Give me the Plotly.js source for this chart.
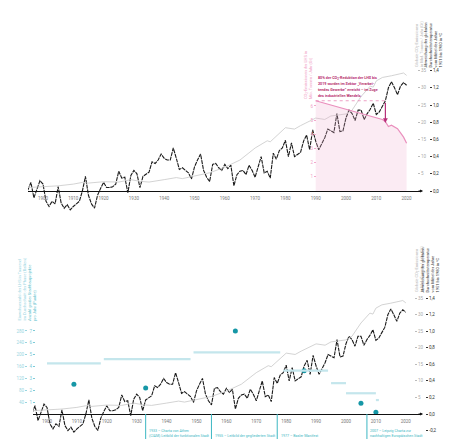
<!DOCTYPE html>
<html><head><meta charset="utf-8">
<script src="https://cdn.plot.ly/plotly-3.0.1.min.js"></script>
<style>html,body{margin:0;padding:0;background:#fff}#chart{width:454px;height:439px}</style>
</head><body><div id="chart"></div>
<script>
// ---------- data ----------
const tempStartYear = 1895;
const tempValues = [
  0.01, 0.10, -0.08, 0.02, 0.12,
  0.08, -0.12, -0.18, -0.12, -0.15, 0.05, -0.14, -0.20, -0.16, -0.22,
  -0.18, -0.15, -0.12, 0.00, 0.17, -0.05, -0.15, -0.20, -0.05, 0.03,
  0.10, 0.04, 0.04, 0.05, 0.08, 0.23, 0.15, 0.16, -0.02, 0.18,
  0.24, 0.20, 0.04, 0.17, 0.19, 0.22, 0.34, 0.32, 0.36, 0.43,
  0.38, 0.36, 0.36, 0.50, 0.38, 0.25, 0.27, 0.24, 0.21, 0.14,
  0.28, 0.36, 0.43, 0.24, 0.16, 0.11, 0.31, 0.32, 0.27, 0.24,
  0.31, 0.26, 0.30, 0.06, 0.19, 0.23, 0.24, 0.19, 0.30, 0.24,
  0.16, 0.28, 0.40, 0.21, 0.23, 0.15, 0.44, 0.37, 0.47, 0.50,
  0.59, 0.40, 0.56, 0.40, 0.42, 0.45, 0.58, 0.65, 0.48, 0.71,
  0.58, 0.48, 0.55, 0.62, 0.72, 0.70, 0.68, 0.90, 0.69, 0.70,
  0.85, 0.94, 0.90, 0.82, 0.94, 0.94, 0.83, 0.90, 0.95, 1.02,
  0.89, 0.92, 0.98, 1.05, 1.20, 1.27, 1.20, 1.12, 1.22, 1.26,
  1.23
];
const co2Years  = [1895,1900,1905,1910,1913,1915,1920,1925,1929,1932,1935,1940,1944,1946,1950,1955,1960,1965,1970,1974,1975,1979,1980,1983,1985,1990,1993,1995,2000,2002,2005,2008,2009,2010,2012,2015,2019,2020];
const co2Values = [1.0, 1.2, 1.5, 2.0, 2.5, 2.3, 2.7, 2.6, 3.3, 2.8, 2.6, 3.3, 3.9, 3.6, 4.4, 5.3, 6.9, 9.0, 12.5, 14.6, 14.3, 17.5, 18.4, 18.0, 19.0, 21.2, 20.8, 21.8, 22.4, 23.5, 27.5, 30.5, 30.2, 32.0, 33.0, 33.5, 34.3, 33.6];
const lhsYears  = [1990,1995,2000,2005,2010,2011,2012,2013,2014,2015,2016,2017,2018,2019,2020];
const lhsValues = [6.37,6.07,5.77,5.47,5.17,5.1,5.05,4.9,4.55,4.65,4.55,4.4,4.1,3.8,3.37];
const periodStart  = [1900, 1919, 1949, 1979, 1995, 2000, 2010];
const periodEnd    = [1918, 1948, 1978, 1994, 2000, 2010, 2011];
const periodValues = [171, 185, 208, 146, 104, 70, 47];
const eventYears  = [1909, 1933, 1963, 1986, 2005, 2010];
const eventValues = [2.5, 2.2, 7.0, 3.65, 0.9, 0.15];
const milestoneYears = [1933, 1955, 1977, 2007];
const milestoneLabels = [
  "1933 – Charta von Athen<br>(CIAM) Leitbild der funktionalen Stadt",
  "1955 – Leitbild der gegliederten Stadt",
  "1977 – Basler Manifest",
  "2007 – Leipzig Charta zur<br>nachhaltigen Europäischen Stadt"
];
const decadeTicks = [1900,1910,1920,1930,1940,1950,1960,1970,1980,1990,2000,2010,2020];
const tempTicks = [0,0.2,0.4,0.6,0.8,1.0,1.2,1.4];
const tempTicksLow = [-0.2,0,0.2,0.4,0.6,0.8,1.0,1.2,1.4];
const co2Ticks = [5,10,15,20,25,30,35];
const lhsTicks = [1,2,3,4,5,6];
const countTicks = [1,2,3,4,5,6,7];
const sizeTicks = [40,80,120,160,200,240,280];
const noteLines = [
  "80% der CO<sub>2</sub>-Reduktion der LHS bis",
  "2019 wurden im Sektor \u201eVerarbei-",
  "tendes Gewerbe\u201c erreicht – im Zuge",
  "des industriellen Wandels."
];

// ---------- helpers ----------
const W = 454, H = 439;
const px = p => p / W;
const py = p => 1 - p / H;
const rng = (topPx, botPx, zeroPx, ppu) => [(zeroPx - botPx) / ppu, (zeroPx - topPx) / ppu];
const tempYears = tempValues.map((_, i) => tempStartYear + i);
const FONT = "Liberation Sans Narrow, Roboto, Arial, sans-serif";

const T = {top: 60, bot: 214, zero: 191, ppu: 86};
const B = {top: 285, bot: 439, zero: 414, ppu: 82.7};
const tealPpu = 11.86;

const comma = v => v.toFixed(1).replace('.', ',');

const tealBarX = [], tealBarY = [];
periodStart.forEach((s, i) => { tealBarX.push(s, periodEnd[i], null); tealBarY.push(periodValues[i], periodValues[i], null); });

const tempLine = {color: '#1a1a1a', width: 1.1, dash: '4px,0.8px'};
const data = [
  {x: co2Years, y: co2Values, xaxis: 'x', yaxis: 'y2', mode: 'lines', line: {color: '#c8c8c8', width: 0.8}, hoverinfo: 'skip'},
  {x: lhsYears, y: lhsValues, xaxis: 'x', yaxis: 'y3', mode: 'lines', fill: 'tozeroy', fillcolor: 'rgba(240,175,208,0.25)', line: {color: '#ea8fbd', width: 1.2}, hoverinfo: 'skip'},
  {x: tempYears, y: tempValues, xaxis: 'x', yaxis: 'y', mode: 'lines', line: tempLine, hoverinfo: 'skip'},
  {x: co2Years, y: co2Values, xaxis: 'x2', yaxis: 'y5', mode: 'lines', line: {color: '#c8c8c8', width: 0.8}, hoverinfo: 'skip'},
  {x: tealBarX, y: tealBarY, xaxis: 'x2', yaxis: 'y7', mode: 'lines', line: {color: '#c4e6ec', width: 2.2}, connectgaps: false, hoverinfo: 'skip'},
  {x: tempYears, y: tempValues, xaxis: 'x2', yaxis: 'y4', mode: 'lines', line: tempLine, hoverinfo: 'skip'},
  {x: eventYears, y: eventValues, xaxis: 'x2', yaxis: 'y6', mode: 'markers', marker: {color: '#1697a6', size: 5}, hoverinfo: 'skip'}
];

const xCommon = {
  showgrid: false, zeroline: false, showline: true, linecolor: '#111', linewidth: 1.2,
  tickvals: decadeTicks, ticks: '', tickfont: {size: 4.5, color: '#777', family: FONT},
  ticklabelstandoff: 2, anchor: 'free'
};
const yCommon = {showgrid: false, zeroline: false, showline: false, ticks: 'outside', ticklen: 2, tickwidth: 1, anchor: 'free'};

const layout = {
  width: W, height: H, margin: {l: 0, r: 0, t: 0, b: 0},
  paper_bgcolor: '#fff', plot_bgcolor: 'rgba(0,0,0,0)', showlegend: false,
  separators: ',.', font: {family: FONT, size: 4.5},
  xaxis: Object.assign({}, xCommon, {domain: [px(28), px(421)], range: [1900 - 15 / 3.03, 1900 + 378 / 3.03], position: py(191)}),
  xaxis2: Object.assign({}, xCommon, {domain: [px(33), px(421)], range: [1930 - 103.7 / 2.99, 1930 + 284.3 / 2.99], position: py(414)}),
  yaxis: Object.assign({}, yCommon, {domain: [py(T.bot), py(T.top)], range: rng(T.top, T.bot, T.zero, T.ppu), side: 'right', position: px(429),
    tickvals: tempTicks, ticktext: tempTicks.map(comma), tickcolor: '#333', tickfont: {size: 4.5, color: '#333', family: FONT}}),
  yaxis2: Object.assign({}, yCommon, {overlaying: 'y', range: rng(T.top, T.bot, T.zero, T.ppu / 25), side: 'right', position: px(417),
    tickvals: co2Ticks, tickcolor: '#bbb', tickfont: {size: 4.5, color: '#aaa', family: FONT}}),
  yaxis3: Object.assign({}, yCommon, {overlaying: 'y', range: rng(T.top, T.bot, T.zero, 14.17), side: 'left', position: px(316),
    tickvals: lhsTicks, tickcolor: '#f3a9cc', tickfont: {size: 4.5, color: '#f0a0c6', family: FONT}}),
  yaxis4: Object.assign({}, yCommon, {domain: [py(B.bot), py(B.top)], range: rng(B.top, B.bot, B.zero, B.ppu), side: 'right', position: px(425),
    tickvals: tempTicksLow, ticktext: tempTicksLow.map(comma), tickcolor: '#333', tickfont: {size: 4.5, color: '#333', family: FONT}}),
  yaxis5: Object.assign({}, yCommon, {overlaying: 'y4', range: rng(B.top, B.bot, B.zero, B.ppu / 25), side: 'right', position: px(414),
    tickvals: co2Ticks, tickcolor: '#bbb', tickfont: {size: 4.5, color: '#aaa', family: FONT}}),
  yaxis6: Object.assign({}, yCommon, {overlaying: 'y4', range: rng(B.top, B.bot, B.zero, tealPpu), side: 'left', position: px(35),
    tickvals: countTicks, tickcolor: '#7fcbd6', tickfont: {size: 4.5, color: '#7fcbd6', family: FONT}}),
  yaxis7: Object.assign({}, yCommon, {overlaying: 'y4', range: rng(B.top, B.bot, B.zero, tealPpu / 40), side: 'left', position: px(27),
    tickvals: sizeTicks, tickcolor: '#9bd6df', tickfont: {size: 4.5, color: '#9bd6df', family: FONT}}),
  shapes: [
    {type: 'line', xref: 'x', yref: 'y3', x0: lhsYears[0], x1: 2013, y0: lhsValues[0], y1: lhsValues[0], line: {color: '#e889b7', width: 0.8, dash: 'dot'}}
  ].concat(milestoneYears.map(yr => ({type: 'line', xref: 'x2', yref: 'paper', x0: yr, x1: yr, y0: py(439), y1: py(414), line: {color: '#3cb7c3', width: 1}}))),
  annotations: []
};

const A = layout.annotations;
A.push({xref: 'x', yref: 'y3', x: 2013, y: 4.8, axref: 'x', ayref: 'y3', ax: 2013, ay: lhsValues[0], showarrow: true, arrowhead: 2, arrowsize: 0.8, arrowwidth: 1.2, arrowcolor: '#b8307a', text: ' ', font: {size: 1}});
A.push({xref: 'paper', yref: 'paper', x: px(423), y: py(191), ax: -6, ay: 0, showarrow: true, arrowhead: 2, arrowsize: 0.6, arrowwidth: 1, arrowcolor: '#111', text: ' ', font: {size: 1}});
A.push({xref: 'paper', yref: 'paper', x: px(423), y: py(414), ax: -6, ay: 0, showarrow: true, arrowhead: 2, arrowsize: 0.6, arrowwidth: 1, arrowcolor: '#111', text: ' ', font: {size: 1}});
noteLines.forEach((t, i) => A.push({xref: 'paper', yref: 'paper', x: px(316), y: py(79 + i * 5.7), xanchor: 'left', yanchor: 'middle', showarrow: false,
  text: '<b>' + t + '</b>', font: {size: 3.7, color: '#b8306f', family: FONT}}));
function rot(xp, yBottom, text, color, size) {
  A.push({xref: 'paper', yref: 'paper', x: px(xp), y: py(yBottom), xanchor: 'center', yanchor: 'bottom', textangle: -90, showarrow: false, align: 'left',
    text: text, font: {size: size || 4, color: color, family: FONT}});
}
rot(419, 69, 'Globale CO<sub>2</sub>-Emissionen<br>in Mrd. Tonnen / Jahr (Gt)', '#b5b5b5');
rot(433, 70, 'Abweichung der globalen<br>Durchschnittstemperatur<br>vom Mittel der Jahre<br>1951 bis 1980 in °C', '#333');
rot(308, 101, 'CO<sub>2</sub>-Emissionen der LHS in<br>Mio. Tonnen / Jahr (Gt)', '#ef9cc4');
rot(419, 294, 'Globale CO<sub>2</sub>-Emissionen<br>in Mrd. Tonnen / Jahr (Gt)', '#b5b5b5');
rot(430, 295, 'Abweichung der globalen<br>Durchschnittstemperatur<br>vom Mittel der Jahre<br>1951 bis 1980 in °C', '#333');
rot(21, 323, 'Einwohnerzahl der LHS in Tausend<br>im Durchschnitt der Phase (Balken)', '#9bd6df');
rot(32, 323, 'Anzahl großer Stadtbauprojekte<br>pro Jahr (Punkte)', '#5fbfcc');
milestoneYears.forEach((yr, i) => A.push({xref: 'x2', yref: 'paper', x: yr, y: py(i === 0 || i === 3 ? 427 : 432), xanchor: 'left', yanchor: 'top', xshift: 1.5,
  showarrow: false, align: 'left', text: milestoneLabels[i], font: {size: 3.6, color: '#3cb7c3', family: FONT}}));

Plotly.newPlot('chart', data, layout, {staticPlot: true});
</script></body></html>
